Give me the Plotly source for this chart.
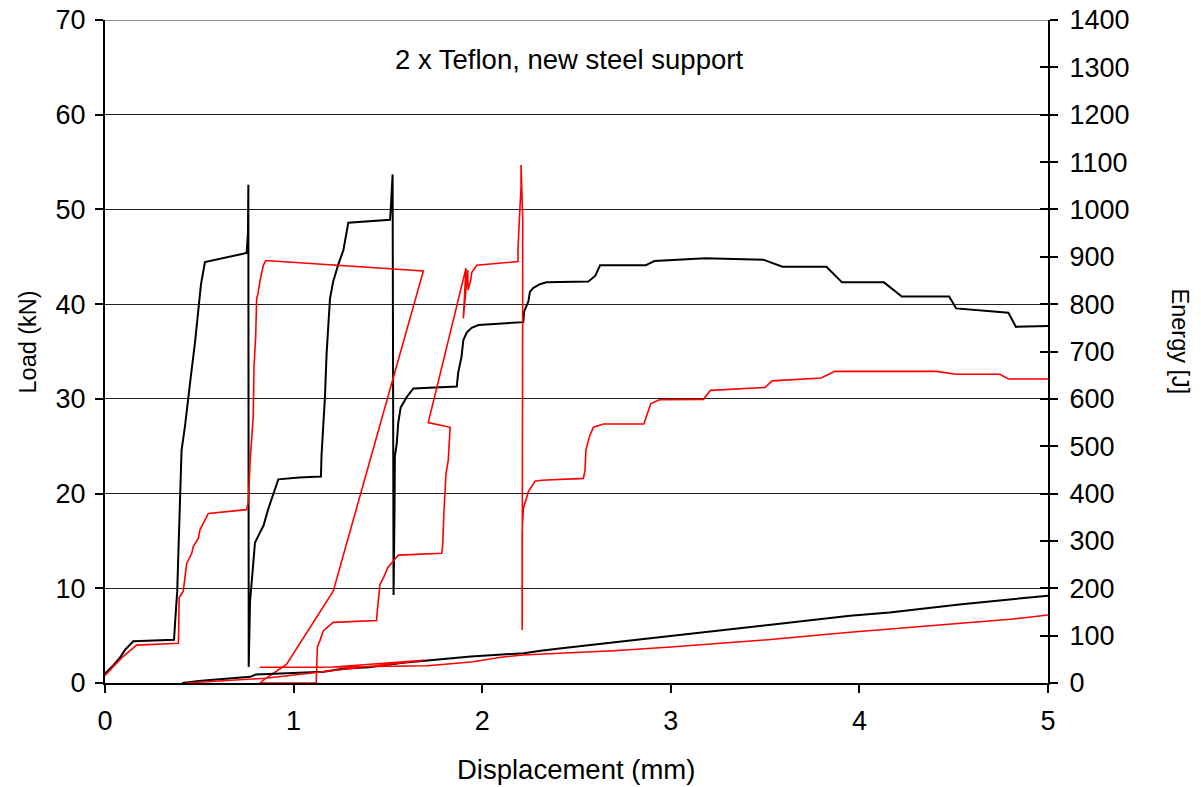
import plotly.graph_objects as go

# ---------------- data ----------------
black_load_x = [0.00, 0.044, 0.08, 0.106, 0.15, 0.366, 0.372, 0.383, 0.389, 0.398,
                0.406, 0.424, 0.44, 0.454, 0.477, 0.495, 0.509, 0.53, 0.751, 0.758,
                0.760, 0.762, 0.765, 0.769, 0.786, 0.795, 0.822, 0.84, 0.866, 0.892,
                0.919, 1.03, 1.145, 1.148, 1.158, 1.166, 1.175, 1.193, 1.21, 1.237,
                1.264, 1.29, 1.511, 1.515, 1.525, 1.53, 1.535, 1.537, 1.547, 1.555,
                1.568, 1.60, 1.635, 1.865, 1.873, 1.89, 1.90, 1.918, 1.944, 1.98,
                2.218, 2.222, 2.245, 2.253, 2.27, 2.306, 2.34, 2.563, 2.60, 2.625,
                2.866, 2.913, 3.183, 3.49, 3.592, 3.825, 3.908, 4.13, 4.225, 4.476,
                4.513, 4.79, 4.83, 5.0]
black_load_y = [1.0, 1.85, 2.7, 3.5, 4.4, 4.57, 6.5, 9.7, 13.7, 18.4,
                24.6, 27.1, 30.1, 32.2, 35.9, 39.5, 42.1, 44.45, 45.4, 47.5,
                52.6, 1.7, 5.0, 8.6, 12.6, 14.8, 15.9, 16.6, 18.4, 19.9,
                21.5, 21.7, 21.8, 24.0, 27.1, 30.1, 34.8, 40.6, 42.4, 44.2,
                45.7, 48.6, 48.9, 49.9, 53.7, 9.3, 18.0, 23.9, 25.3, 27.5,
                29.1, 30.2, 31.1, 31.3, 32.8, 34.4, 36.2, 37.0, 37.5, 37.8,
                38.1, 39.2, 40.3, 41.3, 41.7, 42.1, 42.3, 42.4, 43.0, 44.1,
                44.1, 44.55, 44.85, 44.7, 43.95, 43.95, 42.3, 42.3, 40.8, 40.8,
                39.55, 39.1, 37.6, 37.7]

red_load_x = [0.0, 0.044, 0.09, 0.168, 0.389, 0.391, 0.393, 0.415, 0.424, 0.433,
              0.46, 0.468, 0.495, 0.504, 0.525, 0.548, 0.751, 0.76, 0.769, 0.778,
              0.786, 0.79, 0.799, 0.804, 0.81, 0.825, 0.84, 0.852, 1.688, 1.21,
              0.963, 0.84, 0.822, 1.12, 1.124, 1.126, 1.14, 1.157, 1.21, 1.44,
              1.445, 1.458, 1.476, 1.50, 1.538, 1.555, 1.785, 1.79, 1.797, 1.808,
              1.82, 1.83, 1.714, 1.914, 1.90, 1.923, 1.925, 1.94, 1.944, 1.971,
              2.19, 2.19, 2.20, 2.206, 2.206, 2.215, 2.212, 2.214, 2.212, 2.218,
              2.245, 2.28, 2.315, 2.536, 2.545, 2.55, 2.57, 2.59, 2.643, 2.857,
              2.876, 2.894, 2.94, 3.173, 3.21, 3.5, 3.537, 3.797, 3.87, 4.41,
              4.51, 4.745, 4.79, 5.0]
red_load_y = [0.8, 1.7, 2.7, 4.0, 4.2, 5.7, 9.0, 9.7, 11.5, 12.6,
              13.7, 14.4, 15.3, 16.2, 17.0, 17.9, 18.3, 19.1, 23.3, 26.1,
              28.2, 33.4, 36.6, 40.6, 41.0, 42.8, 44.1, 44.6, 43.5, 9.7,
              2.0, 0.3, 0.0, 0.0, 2.0, 3.8, 4.5, 5.5, 6.4, 6.6,
              7.9, 10.4, 11.1, 12.2, 13.1, 13.5, 13.7, 14.4, 18.0, 22.1,
              23.5, 27.0, 27.5, 43.8, 38.5, 43.6, 41.5, 42.6, 43.3, 44.1,
              44.5, 45.9, 50.1, 52.3, 54.7, 48.9, 5.6, 12.6, 16.0, 18.4,
              20.2, 21.3, 21.4, 21.6, 22.4, 24.6, 26.1, 27.0, 27.35, 27.35,
              28.5, 29.5, 29.9, 29.95, 30.9, 31.2, 31.9, 32.2, 32.9, 32.9,
              32.6, 32.6, 32.1, 32.1]

black_energy_x = [0.41, 0.51, 0.77, 0.80, 1.16, 1.26, 1.40, 1.58, 1.94, 2.22,
                  2.31, 2.41, 2.75, 3.0, 3.5, 3.95, 4.16, 4.53, 4.81, 5.0]
black_energy_y = [0, 5, 13, 18, 24, 30, 33, 43, 56, 63,
                  68, 73, 88, 99, 121, 142, 149, 166, 177, 184]

red_energy_x = [0.43, 0.55, 0.77, 0.85, 1.69, 1.21, 0.96, 0.82, 1.12, 1.43,
                1.706, 1.82, 1.953, 2.09, 2.218, 2.41, 2.7, 3.0, 3.5, 3.95,
                4.16, 4.46, 4.8, 5.0]
red_energy_y = [0, 2.5, 8, 10, 48, 34, 33, 33, 33, 35,
                36.6, 40, 45, 54, 59, 62.7, 68, 76, 91, 107,
                114, 122.5, 134.5, 143.6]

x_ticks = [0, 1, 2, 3, 4, 5]
load_ticks = [0, 10, 20, 30, 40, 50, 60, 70]
energy_ticks = list(range(0, 1401, 100))

title_text = "2 x Teflon, new steel support"
FONT = "Liberation Sans, Arial, sans-serif"
TICK_SIZE = 27
H_LABEL_SIZE = 27.5
V_LABEL_SIZE = 23.5

fig = go.Figure()
fig.add_trace(go.Scatter(x=black_energy_x, y=black_energy_y, yaxis="y2", mode="lines",
                         line=dict(color="#000000", width=2), showlegend=False))
fig.add_trace(go.Scatter(x=red_energy_x, y=red_energy_y, yaxis="y2", mode="lines",
                         line=dict(color="#FF0000", width=1.5), showlegend=False))
fig.add_trace(go.Scatter(x=black_load_x, y=black_load_y, mode="lines",
                         line=dict(color="#000000", width=2), showlegend=False))
fig.add_trace(go.Scatter(x=red_load_x, y=red_load_y, mode="lines",
                         line=dict(color="#FF0000", width=1.6), showlegend=False))
# dummy trace for the inside-tick copy of the energy axis
fig.add_trace(go.Scatter(x=[None], y=[None], yaxis="y3", showlegend=False))

fig.update_layout(
    width=1201, height=787,
    margin=dict(l=105, r=153, t=20, b=104, autoexpand=False),
    paper_bgcolor="white", plot_bgcolor="white",
    font=dict(family=FONT, size=TICK_SIZE, color="black"),
    xaxis=dict(range=[0, 5], tickvals=x_ticks, ticks="outside", ticklen=8,
               tickcolor="black", tickwidth=1.5, showgrid=False, zeroline=False,
               showline=True, linecolor="black", linewidth=2, automargin=False,
               tickfont=dict(size=TICK_SIZE), ticklabelstandoff=5,
               ticklabeloverflow="allow"),
    yaxis=dict(range=[0, 70], tickvals=load_ticks, ticks="outside", ticklen=8,
               tickcolor="black", tickwidth=1.5, showgrid=True, gridcolor="#222222",
               gridwidth=1, zeroline=False, showline=True, linecolor="black",
               linewidth=2, automargin=False, tickfont=dict(size=TICK_SIZE),
               ticklabelstandoff=4, ticklabeloverflow="allow"),
    yaxis2=dict(range=[0, 1400], tickvals=energy_ticks, overlaying="y", side="right",
                ticks="outside", ticklen=8, tickcolor="black", tickwidth=1.5,
                showgrid=False, zeroline=False, showline=True, linecolor="black",
                linewidth=2, automargin=False, tickfont=dict(size=TICK_SIZE),
                ticklabelstandoff=6, ticklabeloverflow="allow"),
    yaxis3=dict(range=[0, 1400], tickvals=energy_ticks, overlaying="y", side="right",
                ticks="inside", ticklen=8, tickcolor="black", tickwidth=1.5,
                showgrid=False, zeroline=False, showline=False, showticklabels=False,
                automargin=False),
    shapes=[dict(type="line", xref="paper", x0=0, x1=1, yref="y",
                 y0=load_ticks[-1], y1=load_ticks[-1],
                 line=dict(color="#222222", width=1))],
    annotations=[
        dict(text=title_text, x=2.46, y=65.8, xref="x", yref="y", showarrow=False,
             font=dict(size=H_LABEL_SIZE), xanchor="center", yanchor="middle"),
        dict(text="Displacement (mm)", x=0.4995, y=-0.13, xref="paper", yref="paper",
             showarrow=False, font=dict(size=H_LABEL_SIZE), xanchor="center",
             yanchor="middle"),
        dict(text="Load (kN)", x=-0.0817, y=0.515, xref="paper", yref="paper",
             showarrow=False, textangle=-90, font=dict(size=V_LABEL_SIZE),
             xanchor="center", yanchor="middle"),
        dict(text="Energy [J]", x=1.14, y=0.515, xref="paper", yref="paper",
             showarrow=False, textangle=90, font=dict(size=V_LABEL_SIZE),
             xanchor="center", yanchor="middle"),
    ],
)

# remove the default 8px page margin so the figure fills the window exactly
fig.write_html("out.html",
               config={"displayModeBar": False},
               post_script="document.body.style.margin='0';document.body.style.overflow='hidden';")
